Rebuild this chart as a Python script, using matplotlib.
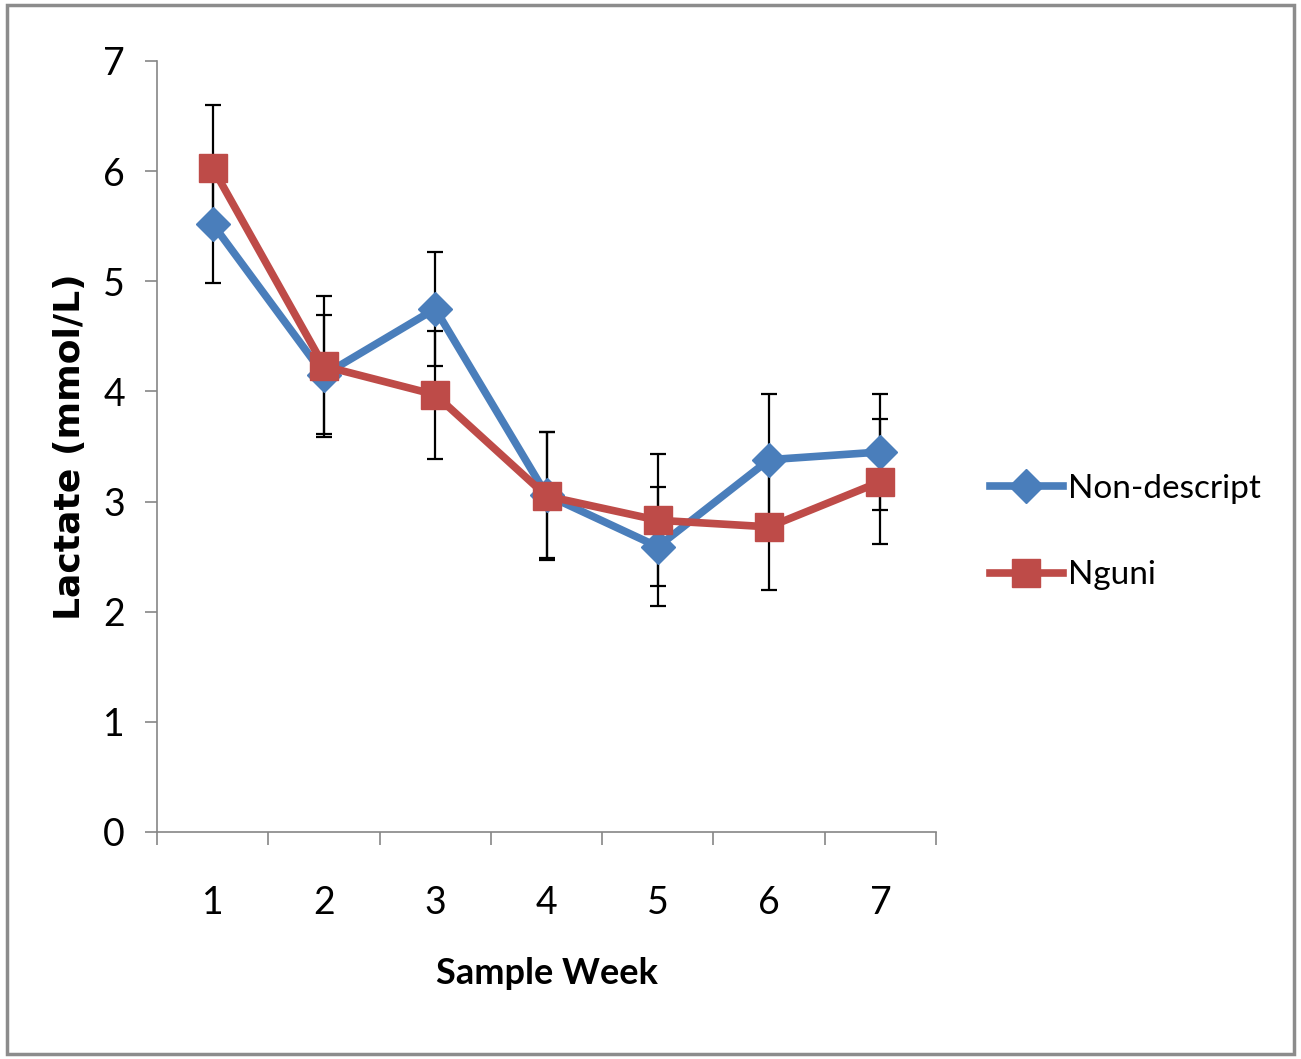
import numpy as np
import matplotlib.pyplot as plt
from matplotlib.patches import Rectangle

weeks = [1, 2, 3, 4, 5, 6, 7]
nondescript = [5.52, 4.15, 4.75, 3.06, 2.59, 3.38, 3.45]
nondescript_err = [0.54, 0.54, 0.52, 0.57, 0.54, 0.60, 0.53]
nguni = [6.03, 4.23, 3.97, 3.05, 2.83, 2.77, 3.18]
nguni_err = [0.57, 0.64, 0.58, 0.58, 0.60, 0.57, 0.57]

blue = '#4A7EBB'
red = '#BE4B48'
axis_col = '#868686'
narrow = ['Lato', 'DejaVu Sans']

fig = plt.figure(figsize=(13.01, 10.59), dpi=100)
ax = fig.add_axes([0.1207, 0.2144, 0.5988, 0.7280])

# error bars underneath the series
ax.errorbar(weeks, nondescript, yerr=nondescript_err, fmt='none', ecolor='black',
            elinewidth=1.6, capsize=6, capthick=1.6, zorder=1)
ax.errorbar(weeks, nguni, yerr=nguni_err, fmt='none', ecolor='black',
            elinewidth=1.6, capsize=6, capthick=1.6, zorder=1)

ax.plot(weeks, nondescript, color=blue, lw=5.5, marker='D', ms=17,
        label='Non-descript', zorder=2)
ax.plot(weeks, nguni, color=red, lw=5.5, marker='s', ms=20,
        label='Nguni', zorder=3)

ax.set_xlim(0.5, 7.5)
ax.set_ylim(0, 7)

ax.set_xticks(np.arange(0.5, 8, 1))
ax.set_xticklabels([])
ax.set_xticks(weeks, minor=True)
ax.set_xticklabels([str(w) for w in weeks], minor=True, fontfamily=narrow, fontsize=27)
ax.tick_params(axis='x', which='major', length=9, width=1.2, color=axis_col, direction='out')
ax.tick_params(axis='x', which='minor', length=0, pad=38)

ax.set_yticks(range(0, 8))
ax.set_yticklabels([str(v) for v in range(0, 8)], fontfamily=narrow, fontsize=27)
ax.tick_params(axis='y', length=9, width=1.2, color=axis_col, direction='out', pad=14)

for s in ['top', 'right']:
    ax.spines[s].set_visible(False)
for s in ['left', 'bottom']:
    ax.spines[s].set_color(axis_col)
    ax.spines[s].set_linewidth(1.2)

ax.set_xlabel('Sample Week', fontsize=26, fontweight='bold', fontfamily=narrow, labelpad=26)
ax.set_ylabel('Lactate (mmol/L)', fontsize=26, fontweight='bold', labelpad=12)

leg = ax.legend(loc='center left', bbox_to_anchor=(1.069, 0.389), frameon=False,
                prop={'family': narrow, 'size': 24}, handlelength=2.2,
                labelspacing=1.7, handletextpad=0.15, borderpad=0, borderaxespad=0)

fig.patches.append(Rectangle((0.005, 0.005), 0.99, 0.99, transform=fig.transFigure,
                             fill=False, edgecolor='#8c8c8c', lw=2.5))

fig.savefig('out.png', dpi=100)
